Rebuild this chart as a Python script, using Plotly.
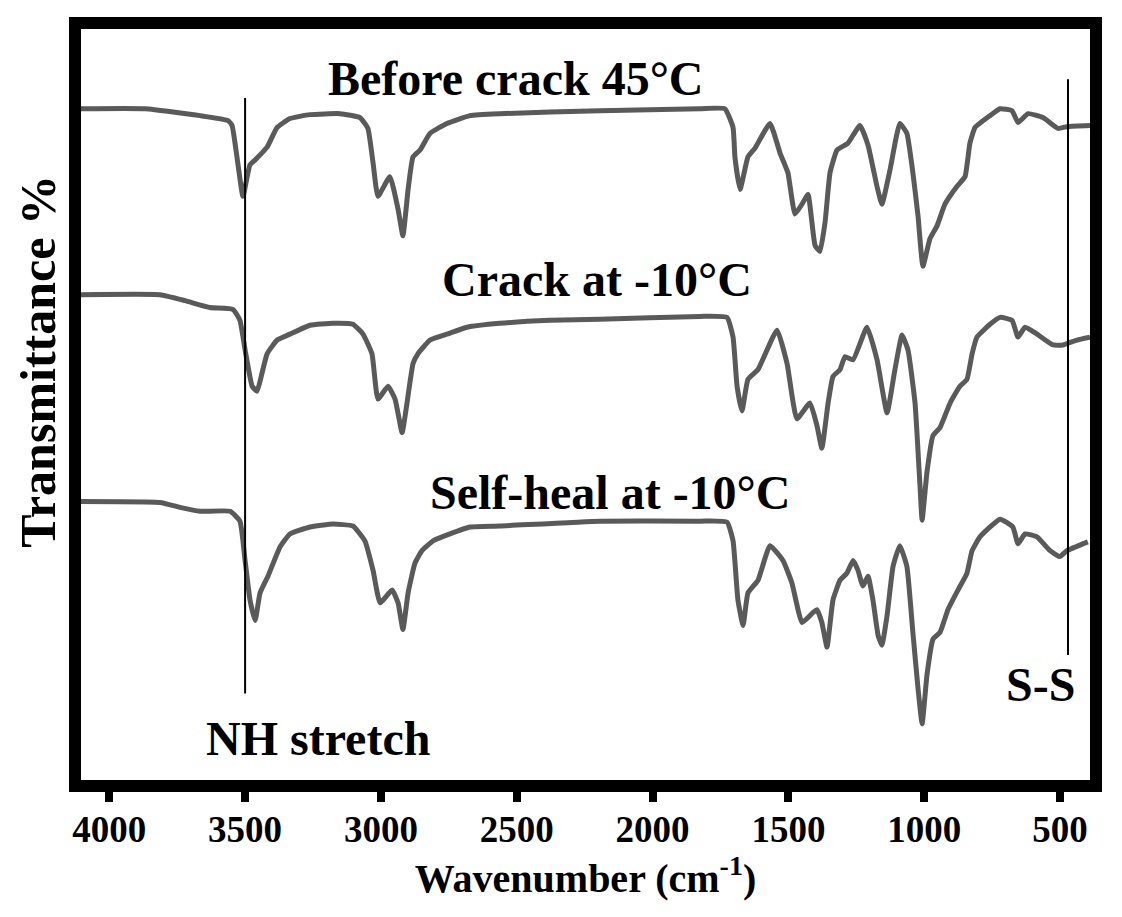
import plotly.graph_objects as go

# ---- data: wavenumber (cm-1) and transmittance (offset, a.u.) ----
wn_before = [4108, 3868, 3666, 3563, 3548, 3526, 3508, 3482, 3463, 3419, 3382, 3335, 3261, 3151, 3077, 3048,
             3029, 3011, 2967, 2937, 2919, 2900, 2882, 2856, 2819, 2757, 2672, 2562, 2194, 1826, 1734, 1704,
             1697, 1678, 1649, 1623, 1568, 1531, 1502, 1476, 1450, 1428, 1402, 1384, 1365, 1347, 1321, 1281,
             1237, 1207, 1174, 1156, 1126, 1090, 1064, 1042, 1023, 1005, 979, 953, 924, 880, 850, 832, 813,
             758, 721, 677, 655, 618, 563, 508, 471, 390]
t_before = [68.8, 68.8, 68.1, 67.6, 67.1, 63.1, 59.9, 63.1, 63.6, 64.9, 66.9, 67.8, 68.2, 68.3, 67.9, 66.8,
            63.3, 59.9, 61.9, 58.6, 55.9, 60.6, 63.9, 64.6, 66.3, 67.3, 68.1, 68.3, 68.6, 68.8, 68.8, 66.9,
            63.9, 60.6, 63.9, 64.8, 67.3, 64.3, 62.3, 58.1, 59.1, 60.1, 54.9, 54.3, 57.3, 62.3, 64.6, 65.3,
            67.1, 65.1, 60.9, 59.1, 62.6, 67.3, 66.3, 62.3, 57.9, 52.8, 55.6, 56.9, 59.1, 60.9, 61.9, 65.3, 66.9,
            68.1, 68.8, 68.6, 67.4, 68.3, 67.9, 66.8, 67.0, 67.1]

wn_crack = [4108, 3813, 3721, 3629, 3544, 3519, 3500, 3474, 3456, 3438, 3419, 3382, 3335, 3261, 3176, 3103,
            3066, 3033, 3011, 2974, 2948, 2922, 2904, 2882, 2864, 2819, 2757, 2683, 2562, 2378, 2194, 1826,
            1726, 1704, 1689, 1671, 1649, 1612, 1542, 1505, 1469, 1421, 1395, 1377, 1354, 1336, 1310, 1292,
            1262, 1211, 1174, 1137, 1108, 1082, 1060, 1034, 1016, 1008, 990, 968, 942, 905, 869, 843, 824,
            806, 758, 721, 677, 655, 629, 585, 526, 490, 438, 390]
t_crack = [49.9, 49.9, 49.3, 48.6, 48.4, 47.3, 44.3, 40.6, 40.1, 41.9, 43.9, 45.3, 45.9, 46.8, 47.0, 46.9,
           45.9, 43.9, 39.3, 40.6, 39.3, 35.9, 38.9, 42.9, 43.9, 45.3, 45.9, 46.6, 47.0, 47.3, 47.4, 47.7,
           47.6, 45.6, 40.6, 38.1, 41.3, 42.3, 46.3, 42.9, 37.3, 38.9, 36.6, 34.3, 38.9, 41.6, 42.3, 43.6,
           43.3, 46.6, 43.3, 37.9, 42.3, 45.8, 44.3, 38.9, 30.6, 27.0, 31.9, 35.6, 36.4, 38.9, 40.6, 41.3, 43.9,
           45.6, 46.9, 47.6, 47.3, 45.6, 46.6, 45.9, 44.8, 44.8, 45.3, 45.6]

wn_heal = [4108, 3813, 3740, 3666, 3555, 3519, 3500, 3482, 3463, 3445, 3416, 3371, 3335, 3261, 3176, 3103,
           3059, 3029, 3003, 2959, 2937, 2919, 2900, 2875, 2849, 2808, 2746, 2672, 2562, 2194, 1826, 1726,
           1704, 1686, 1667, 1649, 1612, 1568, 1520, 1487, 1450, 1410, 1395, 1377, 1358, 1336, 1310, 1285,
           1262, 1244, 1226, 1207, 1189, 1170, 1156, 1137, 1115, 1090, 1064, 1042, 1023, 1008, 990, 968, 942,
           913, 876, 843, 824, 795, 721, 674, 655, 629, 585, 537, 501, 475, 398]
t_heal = [28.9, 28.8, 28.3, 27.9, 27.9, 26.9, 22.9, 18.9, 16.8, 19.6, 21.3, 24.3, 25.6, 26.3, 26.6, 26.4,
          24.9, 21.9, 18.6, 19.9, 18.6, 15.9, 19.6, 22.6, 23.9, 24.9, 25.6, 26.3, 26.4, 26.9, 26.9, 26.8,
          24.9, 18.9, 16.3, 19.6, 20.9, 24.4, 22.9, 20.6, 16.6, 17.6, 17.9, 16.6, 14.1, 18.9, 20.9, 21.6,
          22.9, 21.9, 20.3, 21.3, 18.9, 15.3, 14.3, 17.3, 22.3, 24.4, 22.3, 15.6, 9.9, 6.3, 11.3, 14.9, 15.6,
          17.9, 19.9, 21.6, 23.9, 25.3, 27.1, 26.3, 24.6, 25.6, 25.3, 23.9, 23.3, 23.9, 24.8]

x_ticks = [4000, 3500, 3000, 2500, 2000, 1500, 1000, 500]
marker_nh = {"wn": 3500, "t": [69.9, 9.4], "label": "NH stretch", "label_wn": 3232, "label_t": 4.8}
marker_ss = {"wn": 471, "t": [71.8, 13.3], "label": "S-S", "label_wn": 574, "label_t": 10.3}
curve_labels = [("Before crack 45°C", 2503, 71.9), ("Crack at -10°C", 2205, 51.4),
                ("Self-heal at -10°C", 2157, 29.8)]

FONT = "Liberation Serif, Times New Roman, serif"
CURVE_COLOR = "#5a5a5a"

fig = go.Figure()
for name, xs, ys in [("Before crack 45°C", wn_before, t_before),
                     ("Crack at -10°C", wn_crack, t_crack),
                     ("Self-heal at -10°C", wn_heal, t_heal)]:
    fig.add_trace(go.Scatter(x=xs, y=ys, mode="lines", name=name,
                             line=dict(color=CURVE_COLOR, width=5, shape="spline", smoothing=0.4),
                             showlegend=False))

for m in (marker_nh, marker_ss):
    fig.add_trace(go.Scatter(x=[m["wn"], m["wn"]], y=m["t"], mode="lines",
                             line=dict(color="black", width=2), showlegend=False))

annotations = []
for text, xw, yt in curve_labels:
    annotations.append(dict(x=xw, y=yt, xref="x", yref="y", text=text, showarrow=False,
                            xanchor="center", yanchor="middle",
                            font=dict(family=FONT, size=48, color="black", weight="bold")))
for m in (marker_nh, marker_ss):
    annotations.append(dict(x=m["label_wn"], y=m["label_t"], xref="x", yref="y", text=m["label"],
                            showarrow=False, xanchor="center", yanchor="middle",
                            font=dict(family=FONT, size=48, color="black", weight="bold")))
annotations.append(dict(x=-0.0426, y=0.557, xref="paper", yref="paper", text="Transmittance %",
                        textangle=-90, showarrow=False, xanchor="center", yanchor="middle",
                        font=dict(family=FONT, size=50, color="black", weight="bold")))

fig.update_layout(
    width=1114, height=909,
    margin=dict(l=73, r=32, t=9, b=137),
    paper_bgcolor="white", plot_bgcolor="white",
    annotations=annotations,
    xaxis=dict(range=[4104, 390], tickvals=x_ticks, ticktext=[str(v) for v in x_ticks],
               showline=True, linewidth=12, linecolor="black", mirror=True,
               ticks="outside", ticklen=10, tickwidth=8, tickcolor="black",
               ticklabelstandoff=-4,
               showgrid=False, zeroline=False,
               tickfont=dict(family=FONT, size=37, color="black", weight="bold"),
               title=dict(text="Wavenumber (cm<sup>-1</sup>)", standoff=16,
                          font=dict(family=FONT, size=40, color="black", weight="bold"))),
    yaxis=dict(range=[0.6, 76.9], showline=True, linewidth=12, linecolor="black", mirror=True,
               showticklabels=False, ticks="", showgrid=False, zeroline=False),
)

fig.write_html("out.html")
